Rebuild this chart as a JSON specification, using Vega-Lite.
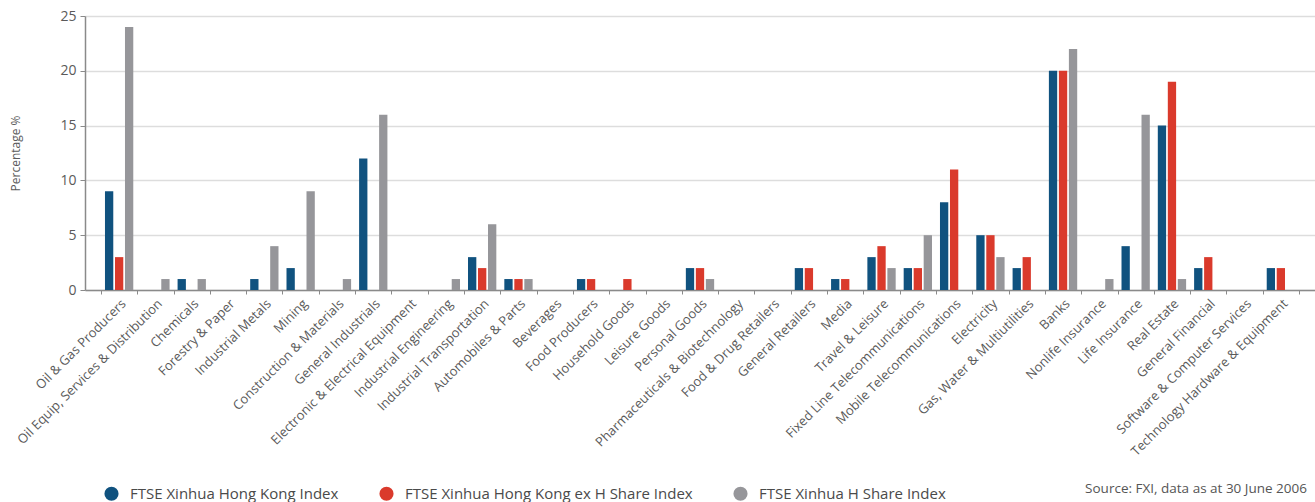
{
  "$schema": "https://vega.github.io/schema/vega-lite/v6.json",
  "autosize": "none",
  "width": 1230,
  "height": 274,
  "padding": {"top": 16, "left": 85, "right": 0, "bottom": 212},
  "background": "white",
  "title": {
    "text": "Source: FXI, data as at 30 June 2006",
    "orient": "bottom",
    "anchor": "end",
    "fontSize": 13.5,
    "fontWeight": "normal",
    "color": "#555555",
    "font": "Open Sans",
    "offset": -20,
    "dx": -8
  },
  "data": {
    "values": [
      {"sector": "Oil & Gas Producers", "index": "FTSE Xinhua Hong Kong Index", "value": 9},
      {"sector": "Oil & Gas Producers", "index": "FTSE Xinhua Hong Kong ex H Share Index", "value": 3},
      {"sector": "Oil & Gas Producers", "index": "FTSE Xinhua H Share Index", "value": 24},
      {"sector": "Oil Equip, Services & Distribution", "index": "FTSE Xinhua Hong Kong Index", "value": 0},
      {"sector": "Oil Equip, Services & Distribution", "index": "FTSE Xinhua Hong Kong ex H Share Index", "value": 0},
      {"sector": "Oil Equip, Services & Distribution", "index": "FTSE Xinhua H Share Index", "value": 1},
      {"sector": "Chemicals", "index": "FTSE Xinhua Hong Kong Index", "value": 1},
      {"sector": "Chemicals", "index": "FTSE Xinhua Hong Kong ex H Share Index", "value": 0},
      {"sector": "Chemicals", "index": "FTSE Xinhua H Share Index", "value": 1},
      {"sector": "Forestry & Paper", "index": "FTSE Xinhua Hong Kong Index", "value": 0},
      {"sector": "Forestry & Paper", "index": "FTSE Xinhua Hong Kong ex H Share Index", "value": 0},
      {"sector": "Forestry & Paper", "index": "FTSE Xinhua H Share Index", "value": 0},
      {"sector": "Industrial Metals", "index": "FTSE Xinhua Hong Kong Index", "value": 1},
      {"sector": "Industrial Metals", "index": "FTSE Xinhua Hong Kong ex H Share Index", "value": 0},
      {"sector": "Industrial Metals", "index": "FTSE Xinhua H Share Index", "value": 4},
      {"sector": "Mining", "index": "FTSE Xinhua Hong Kong Index", "value": 2},
      {"sector": "Mining", "index": "FTSE Xinhua Hong Kong ex H Share Index", "value": 0},
      {"sector": "Mining", "index": "FTSE Xinhua H Share Index", "value": 9},
      {"sector": "Construction & Materials", "index": "FTSE Xinhua Hong Kong Index", "value": 0},
      {"sector": "Construction & Materials", "index": "FTSE Xinhua Hong Kong ex H Share Index", "value": 0},
      {"sector": "Construction & Materials", "index": "FTSE Xinhua H Share Index", "value": 1},
      {"sector": "General Industrials", "index": "FTSE Xinhua Hong Kong Index", "value": 12},
      {"sector": "General Industrials", "index": "FTSE Xinhua Hong Kong ex H Share Index", "value": 0},
      {"sector": "General Industrials", "index": "FTSE Xinhua H Share Index", "value": 16},
      {"sector": "Electronic & Electrical Equipment", "index": "FTSE Xinhua Hong Kong Index", "value": 0},
      {"sector": "Electronic & Electrical Equipment", "index": "FTSE Xinhua Hong Kong ex H Share Index", "value": 0},
      {"sector": "Electronic & Electrical Equipment", "index": "FTSE Xinhua H Share Index", "value": 0},
      {"sector": "Industrial Engineering", "index": "FTSE Xinhua Hong Kong Index", "value": 0},
      {"sector": "Industrial Engineering", "index": "FTSE Xinhua Hong Kong ex H Share Index", "value": 0},
      {"sector": "Industrial Engineering", "index": "FTSE Xinhua H Share Index", "value": 1},
      {"sector": "Industrial Transportation", "index": "FTSE Xinhua Hong Kong Index", "value": 3},
      {"sector": "Industrial Transportation", "index": "FTSE Xinhua Hong Kong ex H Share Index", "value": 2},
      {"sector": "Industrial Transportation", "index": "FTSE Xinhua H Share Index", "value": 6},
      {"sector": "Automobiles & Parts", "index": "FTSE Xinhua Hong Kong Index", "value": 1},
      {"sector": "Automobiles & Parts", "index": "FTSE Xinhua Hong Kong ex H Share Index", "value": 1},
      {"sector": "Automobiles & Parts", "index": "FTSE Xinhua H Share Index", "value": 1},
      {"sector": "Beverages", "index": "FTSE Xinhua Hong Kong Index", "value": 0},
      {"sector": "Beverages", "index": "FTSE Xinhua Hong Kong ex H Share Index", "value": 0},
      {"sector": "Beverages", "index": "FTSE Xinhua H Share Index", "value": 0},
      {"sector": "Food Producers", "index": "FTSE Xinhua Hong Kong Index", "value": 1},
      {"sector": "Food Producers", "index": "FTSE Xinhua Hong Kong ex H Share Index", "value": 1},
      {"sector": "Food Producers", "index": "FTSE Xinhua H Share Index", "value": 0},
      {"sector": "Household Goods", "index": "FTSE Xinhua Hong Kong Index", "value": 0},
      {"sector": "Household Goods", "index": "FTSE Xinhua Hong Kong ex H Share Index", "value": 1},
      {"sector": "Household Goods", "index": "FTSE Xinhua H Share Index", "value": 0},
      {"sector": "Leisure Goods", "index": "FTSE Xinhua Hong Kong Index", "value": 0},
      {"sector": "Leisure Goods", "index": "FTSE Xinhua Hong Kong ex H Share Index", "value": 0},
      {"sector": "Leisure Goods", "index": "FTSE Xinhua H Share Index", "value": 0},
      {"sector": "Personal Goods", "index": "FTSE Xinhua Hong Kong Index", "value": 2},
      {"sector": "Personal Goods", "index": "FTSE Xinhua Hong Kong ex H Share Index", "value": 2},
      {"sector": "Personal Goods", "index": "FTSE Xinhua H Share Index", "value": 1},
      {"sector": "Pharmaceuticals & Biotechnology", "index": "FTSE Xinhua Hong Kong Index", "value": 0},
      {"sector": "Pharmaceuticals & Biotechnology", "index": "FTSE Xinhua Hong Kong ex H Share Index", "value": 0},
      {"sector": "Pharmaceuticals & Biotechnology", "index": "FTSE Xinhua H Share Index", "value": 0},
      {"sector": "Food & Drug Retailers", "index": "FTSE Xinhua Hong Kong Index", "value": 0},
      {"sector": "Food & Drug Retailers", "index": "FTSE Xinhua Hong Kong ex H Share Index", "value": 0},
      {"sector": "Food & Drug Retailers", "index": "FTSE Xinhua H Share Index", "value": 0},
      {"sector": "General Retailers", "index": "FTSE Xinhua Hong Kong Index", "value": 2},
      {"sector": "General Retailers", "index": "FTSE Xinhua Hong Kong ex H Share Index", "value": 2},
      {"sector": "General Retailers", "index": "FTSE Xinhua H Share Index", "value": 0},
      {"sector": "Media", "index": "FTSE Xinhua Hong Kong Index", "value": 1},
      {"sector": "Media", "index": "FTSE Xinhua Hong Kong ex H Share Index", "value": 1},
      {"sector": "Media", "index": "FTSE Xinhua H Share Index", "value": 0},
      {"sector": "Travel & Leisure", "index": "FTSE Xinhua Hong Kong Index", "value": 3},
      {"sector": "Travel & Leisure", "index": "FTSE Xinhua Hong Kong ex H Share Index", "value": 4},
      {"sector": "Travel & Leisure", "index": "FTSE Xinhua H Share Index", "value": 2},
      {"sector": "Fixed Line Telecommunications", "index": "FTSE Xinhua Hong Kong Index", "value": 2},
      {"sector": "Fixed Line Telecommunications", "index": "FTSE Xinhua Hong Kong ex H Share Index", "value": 2},
      {"sector": "Fixed Line Telecommunications", "index": "FTSE Xinhua H Share Index", "value": 5},
      {"sector": "Mobile Telecommunications", "index": "FTSE Xinhua Hong Kong Index", "value": 8},
      {"sector": "Mobile Telecommunications", "index": "FTSE Xinhua Hong Kong ex H Share Index", "value": 11},
      {"sector": "Mobile Telecommunications", "index": "FTSE Xinhua H Share Index", "value": 0},
      {"sector": "Electricity", "index": "FTSE Xinhua Hong Kong Index", "value": 5},
      {"sector": "Electricity", "index": "FTSE Xinhua Hong Kong ex H Share Index", "value": 5},
      {"sector": "Electricity", "index": "FTSE Xinhua H Share Index", "value": 3},
      {"sector": "Gas, Water & Multiutilities", "index": "FTSE Xinhua Hong Kong Index", "value": 2},
      {"sector": "Gas, Water & Multiutilities", "index": "FTSE Xinhua Hong Kong ex H Share Index", "value": 3},
      {"sector": "Gas, Water & Multiutilities", "index": "FTSE Xinhua H Share Index", "value": 0},
      {"sector": "Banks", "index": "FTSE Xinhua Hong Kong Index", "value": 20},
      {"sector": "Banks", "index": "FTSE Xinhua Hong Kong ex H Share Index", "value": 20},
      {"sector": "Banks", "index": "FTSE Xinhua H Share Index", "value": 22},
      {"sector": "Nonlife Insurance", "index": "FTSE Xinhua Hong Kong Index", "value": 0},
      {"sector": "Nonlife Insurance", "index": "FTSE Xinhua Hong Kong ex H Share Index", "value": 0},
      {"sector": "Nonlife Insurance", "index": "FTSE Xinhua H Share Index", "value": 1},
      {"sector": "Life Insurance", "index": "FTSE Xinhua Hong Kong Index", "value": 4},
      {"sector": "Life Insurance", "index": "FTSE Xinhua Hong Kong ex H Share Index", "value": 0},
      {"sector": "Life Insurance", "index": "FTSE Xinhua H Share Index", "value": 16},
      {"sector": "Real Estate", "index": "FTSE Xinhua Hong Kong Index", "value": 15},
      {"sector": "Real Estate", "index": "FTSE Xinhua Hong Kong ex H Share Index", "value": 19},
      {"sector": "Real Estate", "index": "FTSE Xinhua H Share Index", "value": 1},
      {"sector": "General Financial", "index": "FTSE Xinhua Hong Kong Index", "value": 2},
      {"sector": "General Financial", "index": "FTSE Xinhua Hong Kong ex H Share Index", "value": 3},
      {"sector": "General Financial", "index": "FTSE Xinhua H Share Index", "value": 0},
      {"sector": "Software & Computer Services", "index": "FTSE Xinhua Hong Kong Index", "value": 0},
      {"sector": "Software & Computer Services", "index": "FTSE Xinhua Hong Kong ex H Share Index", "value": 0},
      {"sector": "Software & Computer Services", "index": "FTSE Xinhua H Share Index", "value": 0},
      {"sector": "Technology Hardware & Equipment", "index": "FTSE Xinhua Hong Kong Index", "value": 2},
      {"sector": "Technology Hardware & Equipment", "index": "FTSE Xinhua Hong Kong ex H Share Index", "value": 2},
      {"sector": "Technology Hardware & Equipment", "index": "FTSE Xinhua H Share Index", "value": 0}
    ]
  },
  "mark": {"type": "bar"},
  "encoding": {
    "x": {
      "field": "sector",
      "type": "nominal",
      "sort": null,
      "scale": {"paddingInner": 0, "paddingOuter": 0.44},
      "axis": {
        "title": null,
        "labelAngle": -45,
        "labelAlign": "right",
        "labelBaseline": "top",
        "labelFontSize": 13,
        "labelColor": "#5a5a5a",
        "labelPadding": 3,
        "labelLimit": 400,
        "tickBand": "extent",
        "tickSize": 4,
        "tickColor": "#8a8a8a",
        "domainColor": "#8a8a8a",
        "domainWidth": 1.5,
        "grid": false
      }
    },
    "xOffset": {
      "field": "index",
      "type": "nominal",
      "sort": ["FTSE Xinhua Hong Kong Index", "FTSE Xinhua Hong Kong ex H Share Index", "FTSE Xinhua H Share Index"],
      "scale": {"paddingInner": 0.17, "paddingOuter": 0.4}
    },
    "y": {
      "field": "value",
      "type": "quantitative",
      "scale": {"domain": [0, 25], "nice": false},
      "axis": {
        "title": "Percentage %",
        "titleFontSize": 12,
        "titleFontWeight": "normal",
        "titleColor": "#5a5a5a",
        "titleX": -70,
        "titleY": 137,
        "titleAlign": "center",
        "titleBaseline": "middle",
        "values": [0, 5, 10, 15, 20, 25],
        "labelFontSize": 14,
        "labelColor": "#5a5a5a",
        "labelPadding": 4,
        "tickSize": 5,
        "tickColor": "#8a8a8a",
        "domainColor": "#8a8a8a",
        "domainWidth": 1.5,
        "gridColor": "#dddddd",
        "gridWidth": 1.5
      }
    },
    "color": {
      "field": "index",
      "type": "nominal",
      "sort": ["FTSE Xinhua Hong Kong Index", "FTSE Xinhua Hong Kong ex H Share Index", "FTSE Xinhua H Share Index"],
      "scale": {
        "domain": ["FTSE Xinhua Hong Kong Index", "FTSE Xinhua Hong Kong ex H Share Index", "FTSE Xinhua H Share Index"],
        "range": ["#10527f", "#da3a2c", "#96969a"]
      },
      "legend": {
        "title": null,
        "orient": "none",
        "direction": "horizontal",
        "legendX": 19,
        "legendY": 470,
        "symbolType": "circle",
        "symbolSize": 200,
        "symbolStrokeWidth": 0,
        "symbolOpacity": 1,
        "labelFontSize": 15,
        "labelColor": "#4a4a4a",
        "labelOffset": 11,
        "columnPadding": 40,
        "labelLimit": 400
      }
    }
  },
  "config": {
    "font": "Open Sans",
    "view": {"stroke": null},
    "axis": {"labelFont": "Open Sans", "titleFont": "Open Sans"},
    "legend": {"labelFont": "Open Sans"}
  }
}
